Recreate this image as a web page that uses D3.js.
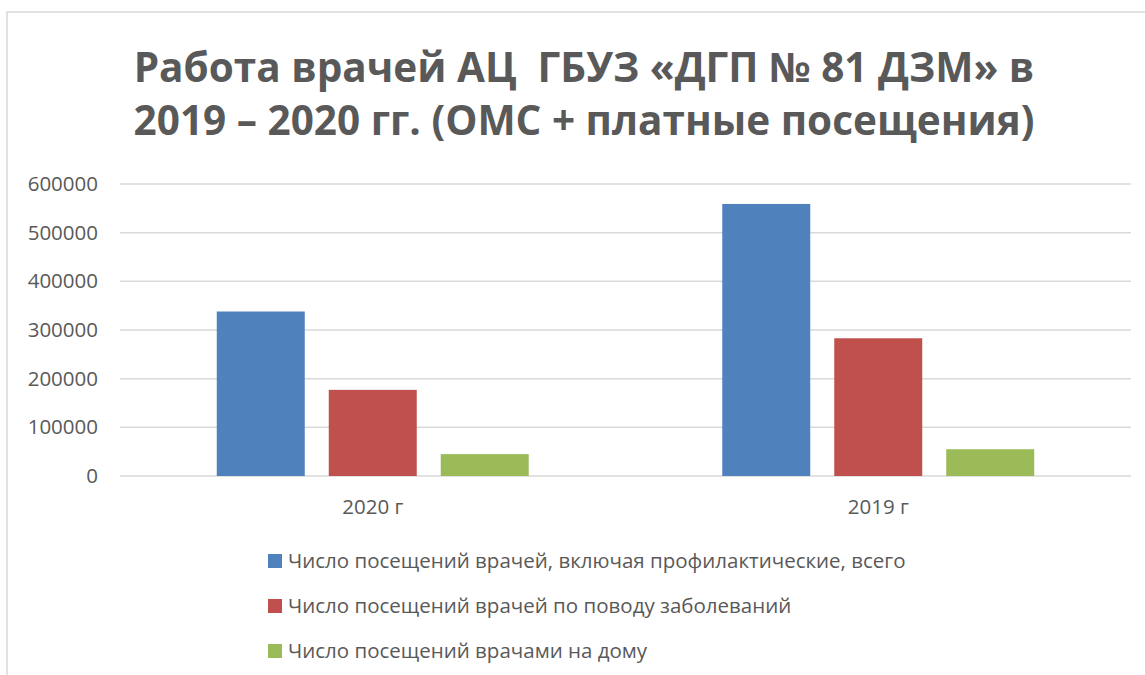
<!DOCTYPE html>
<html>
<head>
<meta charset="utf-8">
<script src="https://cdn.jsdelivr.net/npm/d3@7"></script>
<style>
  body { margin: 0; background: #fff; }
  text { font-family: "Open Sans", sans-serif; fill: #595959; }
</style>
</head>
<body>
<svg id="chart" width="1145" height="675"></svg>
<script>
// data
var categories = ["2020 г", "2019 г"];
var seriesNames = [
    "Число посещений врачей, включая профилактические, всего",
    "Число посещений врачей по поводу заболеваний",
    "Число посещений врачами на дому"
];
var totalVisits = [338000, 559000];
var illnessVisits = [177000, 283000];
var homeVisits = [45000, 55000];
var yTicks = [0, 100000, 200000, 300000, 400000, 500000, 600000];
var titleLines = [
    "Работа врачей АЦ  ГБУЗ «ДГП № 81 ДЗМ» в",
    "2019 – 2020 гг. (ОМС + платные посещения)"
];

var colors = ["#4f81bd", "#c0504d", "#9bbb59"];
var seriesValues = [totalVisits, illnessVisits, homeVisits];

var svg = d3.select("#chart");

// chart area border (only top and left show)
svg.append("path")
    .attr("d", "M 7 675 L 7 12 L 1145 12")
    .attr("fill", "none")
    .attr("stroke", "#d9d9d9")
    .attr("stroke-width", 1.5);

// title
svg.selectAll(".title")
    .data(titleLines)
    .enter().append("text")
    .attr("class", "title")
    .attr("x", 584)
    .attr("y", function(d, i) { return 82 + i * 53; })
    .attr("text-anchor", "middle")
    .style("font-size", "40.5px")
    .style("font-weight", "bold")
    .style("white-space", "pre")
    .text(function(d) { return d; });

var plotLeft = 120, plotRight = 1131, plotTop = 184, plotBottom = 476;

var y = d3.scaleLinear().domain([0, 600000]).range([plotBottom, plotTop]);
var x0 = d3.scaleBand().domain(categories).range([plotLeft, plotRight]).padding(0);
var x1 = d3.scaleBand().domain(d3.range(3))
    .range([0, x0.bandwidth()])
    .paddingInner(0.2143)
    .paddingOuter(0.864);

// gridlines
svg.selectAll(".grid")
    .data(yTicks)
    .enter().append("line")
    .attr("class", "grid")
    .attr("x1", plotLeft)
    .attr("x2", plotRight)
    .attr("y1", function(d) { return y(d); })
    .attr("y2", function(d) { return y(d); })
    .attr("stroke", "#d9d9d9")
    .attr("stroke-width", 1.5);

// y axis labels
var yAxis = d3.axisLeft(y).tickValues(yTicks).tickSize(0).tickPadding(0)
    .tickFormat(d3.format("d"));
svg.append("g")
    .attr("transform", "translate(98,0)")
    .call(yAxis)
    .call(function(g) { g.select(".domain").remove(); })
    .selectAll("text")
    .style("font-size", "20.5px")
    .style("font-family", "'Open Sans', sans-serif")
    .attr("fill", "#595959");

// bars
var groups = svg.selectAll(".cat")
    .data(categories)
    .enter().append("g")
    .attr("class", "cat")
    .attr("transform", function(d) { return "translate(" + x0(d) + ",0)"; });

groups.selectAll("rect")
    .data(function(d, ci) {
        return seriesValues.map(function(vals, si) { return { s: si, v: vals[ci] }; });
    })
    .enter().append("rect")
    .attr("x", function(d) { return x1(d.s); })
    .attr("width", x1.bandwidth())
    .attr("y", function(d) { return y(d.v); })
    .attr("height", function(d) { return plotBottom - y(d.v); })
    .attr("fill", function(d) { return colors[d.s]; });

// category labels
var xAxis = d3.axisBottom(x0).tickSize(0).tickPadding(0);
svg.append("g")
    .call(xAxis)
    .call(function(g) { g.select(".domain").remove(); })
    .selectAll("text")
    .attr("y", 514)
    .attr("dy", null)
    .style("font-size", "20.5px")
    .style("font-family", "'Open Sans', sans-serif")
    .attr("fill", "#595959");

// legend
var legend = svg.selectAll(".legend")
    .data(seriesNames)
    .enter().append("g")
    .attr("class", "legend")
    .attr("transform", function(d, i) { return "translate(268," + (554 + i * 45) + ")"; });

legend.append("rect")
    .attr("width", 14)
    .attr("height", 14)
    .attr("fill", function(d, i) { return colors[i]; });

legend.append("text")
    .attr("x", 20)
    .attr("y", 14)
    .style("font-size", "20.5px")
    .text(function(d) { return d; });
</script>
</body>
</html>
